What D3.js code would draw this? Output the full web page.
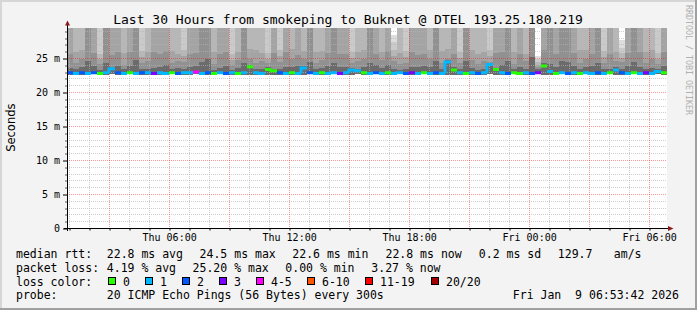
<!DOCTYPE html>
<html>
<head>
<meta charset="utf-8">
<script src="https://cdn.jsdelivr.net/npm/d3@7"></script>
<style>
  html, body { margin: 0; padding: 0; background: #f3f3f3; }
  svg { display: block; }
  text { font-family: "DejaVu Sans Mono", monospace; fill: #000; }
</style>
</head>
<body>
<svg id="chart" width="697" height="310"></svg>
<script>
// ---- data ----
var titleText = "Last 30 Hours from smokeping to Buknet @ DTEL 193.25.180.219";
var startTime = new Date(2026, 0, 8, 0, 53, 42);
var endTime = new Date(2026, 0, 9, 6, 53, 42);
var stepMinutes = 18;

var yTicks = [0, 5, 10, 15, 20, 25];
var yTickLabels = ["0", "5 m", "10 m", "15 m", "20 m", "25 m"];
var xLabelTimes = [new Date(2026, 0, 8, 6), new Date(2026, 0, 8, 12), new Date(2026, 0, 8, 18),
                   new Date(2026, 0, 9, 0), new Date(2026, 0, 9, 6)];
var xTickLabels = ["Thu 06:00", "Thu 12:00", "Thu 18:00", "Fri 00:00", "Fri 06:00"];

// median rtt per step (ms)
var medianRtt = [
  22.9, 22.8, 22.9, 22.8, 22.9, 22.8, 22.9, 23.5, 22.9, 22.8,
  22.9, 22.8, 22.9, 22.9, 22.8, 22.9, 22.8, 22.9, 22.8, 22.9,
  22.9, 23.0, 22.8, 22.9, 22.8, 22.9, 22.8, 22.9, 22.8, 22.9,
  23.8, 22.9, 22.8, 23.4, 23.2, 22.9, 22.8, 22.9, 22.8, 23.6,
  22.9, 22.8, 22.9, 22.8, 22.9, 22.8, 22.9, 23.3, 23.2, 22.9,
  22.8, 22.9, 22.8, 22.9, 22.8, 22.9, 22.8, 22.9, 22.8, 22.9,
  22.8, 22.9, 22.8, 24.5, 23.3, 22.9, 22.8, 22.9, 22.8, 22.9,
  24.1, 23.4, 22.9, 22.8, 22.9, 22.8, 22.9, 22.8, 22.9, 23.9,
  23.1, 22.8, 22.9, 22.8, 22.9, 22.8, 22.9, 22.8, 22.9, 22.8,
  22.9, 23.3, 22.9, 22.8, 22.9, 22.8, 22.9, 22.8, 23.1, 22.9
];
// lost pings (of 20) per step
var lossCount = [
  2, 1, 2, 1, 2, 0, 1, 1, 2, 1,
  0, 1, 2, 1, 3, 1, 1, 0, 2, 1,
  1, 4, 1, 2, 0, 1, 2, 1, 0, 1,
  0, 1, 1, 0, 0, 2, 1, 0, 1, 1,
  2, 1, 0, 1, 1, 3, 1, 1, 1, 0,
  1, 2, 1, 0, 1, 1, 2, 3, 1, 0,
  1, 2, 1, 1, 0, 1, 0, 1, 2, 1,
  1, 0, 1, 2, 0, 0, 1, 2, 3, 0,
  1, 0, 1, 2, 1, 0, 1, 1, 2, 1,
  0, 1, 2, 1, 0, 1, 3, 1, 1, 0
];
// smoke: lowest ping and sorted upper pings (ms)
var minRtt = [
  22.6, 22.7, 22.6, 22.6, 22.7, 22.6, 22.6, 22.7, 22.6, 22.6,
  22.7, 22.6, 22.6, 22.6, 22.7, 22.6, 22.6, 22.7, 22.6, 22.6,
  22.6, 22.7, 22.6, 22.6, 22.6, 22.7, 22.6, 22.6, 22.7, 22.6,
  22.6, 22.6, 22.7, 22.6, 22.6, 22.6, 22.7, 22.6, 22.6, 22.6,
  22.7, 22.6, 22.6, 22.6, 22.7, 22.6, 22.6, 22.6, 22.7, 22.6,
  22.6, 22.7, 22.6, 22.6, 22.6, 22.7, 22.6, 22.6, 22.6, 22.7,
  22.6, 22.6, 22.7, 22.6, 22.6, 22.6, 22.7, 22.6, 22.6, 22.6,
  22.7, 22.6, 22.6, 22.6, 22.7, 22.6, 22.6, 22.6, 22.7, 22.6,
  22.6, 22.6, 22.7, 22.6, 22.6, 22.6, 22.7, 22.6, 22.6, 22.6,
  22.7, 22.6, 22.6, 22.6, 22.7, 22.6, 22.6, 22.6, 22.7, 22.6
];
var ping20 = [
  41.2, 38.5, 40.3, 47.6, 44.1, 36.2, 43.5, 39.7, 42.8, 35.4,
  42.6, 48.3, 37.1, 39.6, 40.1, 43.3, 44.8, 35.9, 41.5, 37.8,
  42.9, 43.2, 45.0, 49.1, 36.4, 40.2, 43.9, 36.0, 39.9, 46.8,
  40.2, 37.0, 39.4, 35.8, 40.6, 37.6, 43.7, 41.0, 43.0, 39.5,
  47.0, 36.3, 40.5, 44.0, 46.4, 40.4, 43.6, 36.8, 39.8, 40.9,
  44.5, 43.7, 40.0, 44.6, 28.5, 36.1, 37.4, 40.5, 43.1, 43.4,
  40.8, 47.9, 36.6, 40.7, 40.3, 38.0, 44.2, 40.6, 36.4, 39.7,
  37.9, 40.1, 43.8, 46.9, 36.2, 43.5, 40.0, 48.6, 25.3, 44.2,
  46.2, 40.4, 47.3, 46.5, 43.9, 36.5, 40.7, 43.6, 44.0, 37.3,
  40.3, 40.2, 27.7, 43.7, 47.1, 40.0, 36.9, 40.6, 36.3, 44.0
];
var ping19 = [
  36.0, 32.1, 35.2, 41.0, 38.3, 31.0, 37.8, 34.4, 37.2, 30.8,
  37.1, 42.2, 31.6, 34.3, 34.8, 37.6, 38.9, 31.3, 35.0, 32.4,
  37.3, 37.5, 39.4, 43.0, 31.1, 34.9, 38.0, 30.7, 34.6, 40.9,
  35.3, 31.8, 34.1, 30.6, 35.2, 32.3, 37.9, 35.8, 37.4, 34.0,
  40.8, 31.4, 35.1, 38.1, 40.5, 34.9, 37.8, 31.7, 34.5, 35.5,
  38.6, 37.9, 34.7, 38.8, 27.4, 30.9, 32.0, 35.0, 37.3, 37.6,
  35.4, 41.7, 31.3, 35.3, 34.8, 32.6, 38.3, 35.2, 31.2, 34.4,
  32.4, 34.8, 38.2, 40.9, 31.0, 37.7, 34.6, 42.5, 24.9, 38.4,
  40.3, 35.0, 41.3, 40.6, 38.1, 31.1, 35.3, 37.7, 38.2, 31.9,
  34.9, 34.9, 26.6, 37.9, 41.1, 34.7, 31.6, 35.2, 31.2, 38.2
];
var ping18 = [
  31.4, 30.2, 30.6, 37.2, 34.0, 25.7, 33.1, 30.5, 33.6, 30.5,
  33.3, 37.9, 26.1, 30.4, 30.2, 33.4, 34.6, 30.1, 30.4, 26.2,
  33.5, 33.7, 34.9, 38.5, 30.6, 30.9, 33.8, 25.6, 30.8, 36.8,
  31.1, 30.3, 30.3, 25.8, 31.0, 26.2, 33.9, 31.6, 33.0, 30.7,
  36.5, 30.4, 30.9, 33.9, 36.2, 30.6, 33.7, 26.0, 30.5, 31.3,
  34.2, 33.6, 30.9, 34.4, 26.2, 30.2, 26.1, 30.5, 33.3, 33.4,
  31.0, 37.4, 30.7, 31.2, 30.4, 26.0, 34.0, 30.8, 30.1, 30.6,
  26.2, 30.7, 33.5, 36.6, 30.5, 33.6, 30.3, 38.1, 24.5, 34.1,
  36.4, 30.7, 36.9, 36.3, 33.8, 30.3, 31.2, 33.5, 33.9, 26.1,
  30.6, 30.5, 25.8, 33.7, 36.8, 30.8, 30.6, 31.0, 25.8, 33.9
];
var ping17 = [
  30.3, 26.0, 26.3, 33.5, 30.7, 24.9, 30.2, 30.1, 30.6, 25.8,
  30.1, 34.0, 25.2, 25.9, 30.6, 30.5, 31.0, 26.1, 25.7, 25.3,
  30.4, 30.4, 31.5, 34.7, 25.9, 30.4, 30.6, 24.8, 26.0, 33.1,
  26.4, 26.2, 25.8, 25.0, 30.2, 25.3, 30.8, 26.4, 30.3, 26.1,
  33.2, 25.9, 26.1, 30.8, 32.8, 30.5, 30.5, 25.1, 25.9, 26.3,
  31.1, 30.5, 26.0, 31.2, 25.3, 25.8, 25.2, 30.3, 30.2, 30.4,
  26.2, 33.9, 26.1, 26.4, 30.4, 25.1, 30.9, 26.2, 25.7, 25.9,
  25.3, 30.2, 30.6, 33.3, 26.0, 30.5, 25.7, 34.3, 24.1, 30.9,
  33.0, 30.6, 33.6, 33.0, 30.7, 26.2, 26.3, 30.3, 30.8, 25.2,
  30.1, 25.9, 25.1, 30.6, 33.4, 30.4, 25.9, 26.2, 25.0, 30.7
];
var ping16 = [
  25.7, 24.3, 24.9, 30.8, 25.8, 24.2, 30.4, 25.5, 25.9, 24.1,
  26.0, 31.1, 24.4, 24.7, 25.9, 25.7, 26.1, 24.3, 24.7, 24.5,
  25.6, 25.8, 30.8, 31.6, 24.2, 25.6, 25.9, 24.1, 24.8, 30.6,
  25.0, 24.4, 24.7, 24.3, 25.8, 24.5, 25.9, 25.0, 25.5, 24.9,
  30.5, 24.3, 24.8, 25.8, 30.2, 25.7, 25.7, 24.4, 24.7, 24.9,
  30.5, 25.7, 24.8, 26.1, 24.6, 24.2, 24.4, 25.9, 25.5, 25.6,
  24.9, 30.9, 24.3, 25.0, 25.6, 24.4, 30.6, 24.8, 24.2, 24.7,
  24.5, 25.8, 25.9, 30.4, 24.2, 25.7, 24.6, 31.3, 23.8, 26.2,
  30.3, 25.7, 30.7, 30.3, 25.8, 24.3, 24.9, 25.6, 30.3, 24.4,
  25.6, 24.7, 24.5, 25.8, 30.6, 25.9, 24.3, 24.9, 24.2, 25.9
];
var ping14 = [
  23.6, 23.4, 23.7, 24.6, 23.9, 23.3, 24.4, 23.8, 23.9, 23.4,
  23.9, 24.8, 23.5, 23.5, 23.6, 23.8, 24.0, 23.4, 23.6, 23.5,
  23.7, 23.9, 24.5, 25.0, 23.3, 23.6, 23.9, 23.3, 23.6, 24.4,
  24.1, 23.4, 23.5, 23.7, 23.5, 23.5, 23.8, 23.7, 23.9, 23.9,
  24.5, 23.4, 23.6, 23.9, 24.4, 23.7, 23.8, 23.6, 23.5, 23.7,
  24.3, 24.0, 23.6, 24.0, 23.5, 23.3, 23.5, 23.7, 23.8, 23.9,
  23.7, 24.7, 23.4, 24.8, 23.7, 23.4, 24.6, 23.6, 23.3, 23.5,
  24.4, 23.6, 24.0, 24.6, 23.4, 23.8, 23.5, 25.2, 23.4, 24.3,
  24.2, 23.7, 24.6, 24.5, 23.9, 23.4, 23.7, 23.9, 24.4, 23.5,
  23.5, 23.8, 23.5, 23.9, 24.5, 23.7, 23.4, 23.6, 23.5, 23.9
];

var lossLabels = ["0", "1", "2", "3", "4-5", "6-10", "11-19", "20/20"];
var lossColors = ["#26ff00", "#00b8ff", "#0059ff", "#7e00ff", "#ff00ff", "#ff5500", "#ff0000", "#a10000"];
var rttStats = ["22.8 ms avg", "24.5 ms max", "22.6 ms min", "22.8 ms now", "0.2 ms sd", "129.7", "am/s"];
var lossStats = ["4.19 % avg", "25.20 % max", "0.00 % min", "3.27 % now"];
var probeText = "20 ICMP Echo Pings (56 Bytes) every 300s";
var stampText = "Fri Jan  9 06:53:42 2026";

// ---- layout ----
var W = 697, H = 310;
var plotLeft = 67, plotRight = 667, plotTop = 27.9, plotBottom = 228.5;
var svg = d3.select("#chart");

svg.append("rect").attr("width", W).attr("height", H).attr("fill", "#f3f3f3");
svg.append("rect").attr("x", 0).attr("y", 0).attr("width", W).attr("height", 2).attr("fill", "#d6d6d6");
svg.append("rect").attr("x", 0).attr("y", 0).attr("width", 2).attr("height", H).attr("fill", "#d6d6d6");
svg.append("rect").attr("x", 0).attr("y", H - 2).attr("width", W).attr("height", 2).attr("fill", "#a0a0a0");
svg.append("rect").attr("x", W - 2).attr("y", 0).attr("width", 2).attr("height", H).attr("fill", "#a0a0a0");

var x = d3.scaleTime().domain([startTime, endTime]).range([plotLeft, plotRight]);
var y = d3.scaleLinear().domain([0, 29.5]).range([plotBottom, plotTop]);

svg.append("rect").attr("x", plotLeft).attr("y", 28).attr("width", plotRight - plotLeft)
  .attr("height", plotBottom - 28).attr("fill", "#ffffff");

svg.append("clipPath").attr("id", "plotclip")
  .append("rect").attr("x", plotLeft).attr("y", 28).attr("width", plotRight - plotLeft)
  .attr("height", plotBottom - 28);

var colTimes = d3.range(medianRtt.length + 1).map(function(k) {
  return d3.timeMinute.offset(startTime, k * stepMinutes);
});

// smoke bands, outermost (light) first
var bands = [
  { vals: ping20, color: "#dddddd" },
  { vals: ping19, color: "#cacaca" },
  { vals: ping18, color: "#b7b7b7" },
  { vals: ping17, color: "#a4a4a4" },
  { vals: ping16, color: "#919191" },
  { vals: ping14, color: "#6b6b6b" }
];
var smoke = svg.append("g").attr("clip-path", "url(#plotclip)").attr("shape-rendering", "crispEdges");
bands.forEach(function(b) {
  smoke.append("g").selectAll("rect").data(b.vals).join("rect")
    .attr("x", function(d, i) { return x(colTimes[i]); })
    .attr("width", function(d, i) { return x(colTimes[i + 1]) - x(colTimes[i]); })
    .attr("y", function(d) { return y(d); })
    .attr("height", function(d, i) { return Math.max(0, y(minRtt[i]) - y(d)); })
    .attr("fill", b.color);
});

// grid on top of the smoke
function crisp(v) { return Math.round(v - 0.5) + 0.5; }
var grid = svg.append("g").attr("fill", "none").attr("stroke-dasharray", "1,1");
var msLines = d3.range(1, 30);
var hours = d3.timeHour.range(startTime, endTime);
grid.selectAll("line.hmin").data(msLines.filter(function(d) { return d % 5 !== 0; })).join("line")
  .attr("class", "hmin")
  .attr("x1", plotLeft).attr("x2", plotRight)
  .attr("y1", function(d) { return crisp(y(d)); }).attr("y2", function(d) { return crisp(y(d)); })
  .attr("stroke", "#b4b4b4").attr("stroke-opacity", 0.65);
grid.selectAll("line.vmin").data(hours.filter(function(d) { return d.getHours() % 3 !== 0; })).join("line")
  .attr("class", "vmin")
  .attr("y1", 28).attr("y2", plotBottom)
  .attr("x1", function(d) { return crisp(x(d)); }).attr("x2", function(d) { return crisp(x(d)); })
  .attr("stroke", "#b4b4b4").attr("stroke-opacity", 0.65);
grid.selectAll("line.hmaj").data(yTicks.slice(1)).join("line")
  .attr("class", "hmaj")
  .attr("x1", plotLeft).attr("x2", plotRight)
  .attr("y1", function(d) { return crisp(y(d)); }).attr("y2", function(d) { return crisp(y(d)); })
  .attr("stroke", "#ff0000").attr("stroke-opacity", 0.4);
grid.selectAll("line.vmaj").data(hours.filter(function(d) { return d.getHours() % 3 === 0; })).join("line")
  .attr("class", "vmaj")
  .attr("y1", 28).attr("y2", plotBottom)
  .attr("x1", function(d) { return crisp(x(d)); }).attr("x2", function(d) { return crisp(x(d)); })
  .attr("stroke", "#ff0000").attr("stroke-opacity", 0.4);

// median line coloured by loss
function lossIndex(n) {
  if (n <= 3) return n;
  if (n <= 5) return 4;
  if (n <= 10) return 5;
  if (n <= 19) return 6;
  return 7;
}
var med = svg.append("g").attr("clip-path", "url(#plotclip)").attr("fill", "none");
med.selectAll("path").data(medianRtt).join("path")
  .attr("d", function(d, i) {
    var x0 = x(colTimes[i]), x1 = x(colTimes[i + 1]);
    var p = "M" + x0 + "," + y(d) + "H" + x1;
    if (i > 0 && lossIndex(lossCount[i - 1]) === lossIndex(lossCount[i]) && medianRtt[i - 1] !== d) {
      p = "M" + x0 + "," + y(medianRtt[i - 1]) + "V" + y(d) + "H" + x1;
    }
    return p;
  })
  .attr("stroke", function(d, i) { return lossColors[lossIndex(lossCount[i])]; })
  .attr("stroke-width", 3);

// axes
var yAxis = d3.axisLeft(y).tickValues(yTicks)
  .tickFormat(function(d, i) { return yTickLabels[i]; })
  .tickSize(4).tickPadding(3);
var gy = svg.append("g").attr("transform", "translate(" + plotLeft + ",0)").call(yAxis);
gy.select(".domain").remove();
gy.selectAll("text").attr("font-family", "DejaVu Sans Mono").attr("font-size", 10).attr("fill", "#000");
gy.selectAll("line").attr("stroke", "#000")
  .attr("transform", function(d) { return "translate(0," + (crisp(y(d)) - y(d)) + ")"; });

var yMinor = d3.axisLeft(y).tickValues(msLines.filter(function(d) { return d % 5 !== 0; }))
  .tickFormat("").tickSize(2);
var gym = svg.append("g").attr("transform", "translate(" + plotLeft + ",0)").call(yMinor);
gym.select(".domain").remove();
gym.selectAll("line").attr("stroke", "#000").attr("stroke-opacity", 0.6)
  .attr("transform", function(d) { return "translate(0," + (crisp(y(d)) - y(d)) + ")"; });

var xMinor = d3.axisBottom(x).tickValues(hours).tickFormat("").tickSize(2);
var gxm = svg.append("g").attr("transform", "translate(0," + plotBottom + ")").call(xMinor);
gxm.select(".domain").remove();
gxm.selectAll("line").attr("stroke", "#000")
  .attr("transform", function(d) { return "translate(" + (crisp(x(d)) - x(d)) + ",0)"; });

var xAxis = d3.axisBottom(x).tickValues(xLabelTimes)
  .tickFormat(function(d, i) { return xTickLabels[i]; })
  .tickSize(0).tickPadding(5.4);
var gx = svg.append("g").attr("transform", "translate(0," + plotBottom + ")").call(xAxis);
gx.select(".domain").remove();
gx.selectAll("text").attr("font-family", "DejaVu Sans Mono").attr("font-size", 10).attr("fill", "#000");

svg.append("line").attr("x1", 67.5).attr("x2", 67.5).attr("y1", 231).attr("y2", 24)
  .attr("stroke", "#000").attr("stroke-width", 1);
svg.append("line").attr("x1", 64).attr("x2", 669).attr("y1", plotBottom).attr("y2", plotBottom)
  .attr("stroke", "#000").attr("stroke-width", 1);
svg.append("path").attr("d", "M65,25.5L67.5,20.5L70,25.5Z").attr("fill", "#8b1a1a");
svg.append("path").attr("d", "M668,226L673.5,228.5L668,231Z").attr("fill", "#8b1a1a");

// titles
svg.append("text").attr("x", 348).attr("y", 24).attr("text-anchor", "middle")
  .attr("font-size", 13).text(titleText);
svg.append("text").attr("transform", "translate(15,127.7) rotate(-90)").attr("text-anchor", "middle")
  .style("font-family", "'DejaVu Sans', sans-serif").attr("font-size", 11.5)
  .text("Seconds");
svg.append("text").attr("transform", "translate(686,5) rotate(90)")
  .attr("font-size", 8.3).style("fill", "#b0b0b0").text("RRDTOOL / TOBI OETIKER");

// legend
var fs = 11.5;
var rowY = [257.5, 271.6, 285.5, 299.4];
var leg = svg.append("g").attr("font-size", fs);
function put(txt, px, py) {
  leg.append("text").attr("x", px).attr("y", py).style("white-space", "pre").text(txt);
}
put("median rtt:", 16, rowY[0]);
var rttX = [106.8, 199.6, 292.3, 385.5, 478.8, 557.8, 613.8];
rttStats.forEach(function(s, i) { put(s, rttX[i], rowY[0]); });
put("packet loss:", 16, rowY[1]);
var lossX = [106.8, 192.6, 285.3, 371.3];
lossStats.forEach(function(s, i) { put(s, lossX[i], rowY[1]); });
put("loss color:", 16, rowY[2]);
var boxX = [108.5, 145.5, 182.5, 219.5, 256.5, 307.5, 365.5, 431.5];
leg.selectAll("rect").data(lossLabels).join("rect")
  .attr("x", function(d, i) { return boxX[i]; }).attr("y", 277.5)
  .attr("width", 7).attr("height", 7)
  .attr("fill", function(d, i) { return lossColors[i]; })
  .attr("stroke", "#000").attr("stroke-width", 1);
lossLabels.forEach(function(s, i) { put(s, boxX[i] + 14.5, rowY[2]); });
put("probe:", 16, rowY[3]);
put(probeText, 106.8, rowY[3]);
put(stampText, 512.8, rowY[3]);
</script>
</body>
</html>
